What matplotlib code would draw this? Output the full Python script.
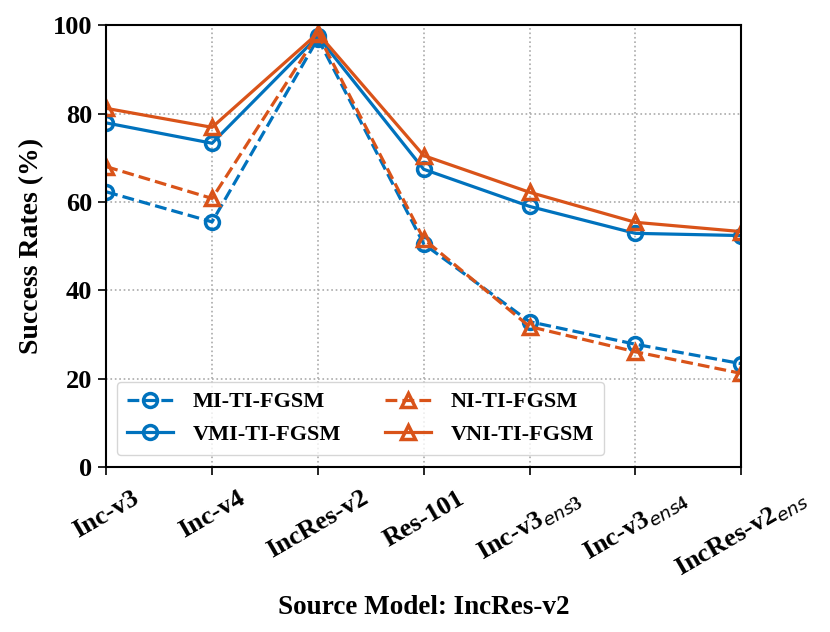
import matplotlib
matplotlib.use("Agg")
import matplotlib.pyplot as plt

models = ["Inc-v3", "Inc-v4", "IncRes-v2", "Res-101",
          r"Inc-v3$_{ens3}$", r"Inc-v3$_{ens4}$", r"IncRes-v2$_{ens}$"]
mi_ti = [62.3, 55.5, 97.0, 50.5, 32.9, 27.8, 23.4]
vmi_ti = [77.9, 73.3, 97.5, 67.4, 59.0, 52.9, 52.4]
ni_ti = [68.0, 60.8, 98.0, 51.6, 31.8, 26.1, 21.2]
vni_ti = [81.2, 76.9, 98.2, 70.5, 62.2, 55.4, 53.3]

plt.rcParams['font.family'] = ['Liberation Serif', 'DejaVu Serif']
plt.rcParams['font.weight'] = 'bold'
plt.rcParams['mathtext.fontset'] = 'custom'
plt.rcParams['mathtext.it'] = 'DejaVu Sans:italic:weight=normal'
plt.rcParams['mathtext.rm'] = 'Liberation Serif:weight=bold'

blue = '#0072BD'
orange = '#D95319'

fig = plt.figure(figsize=(8.3, 6.32), dpi=100)
ax = fig.add_axes([0.128, 0.261, 0.765, 0.699])

x = list(range(len(models)))
kw = dict(linewidth=2.3, markersize=10, markeredgewidth=2.5, markerfacecolor='none')
ax.plot(x, mi_ti, '--', marker='o', color=blue, label='MI-TI-FGSM', **kw)
ax.plot(x, vmi_ti, '-', marker='o', color=blue, label='VMI-TI-FGSM', **kw)
ax.plot(x, ni_ti, '--', marker='^', color=orange, label='NI-TI-FGSM', **kw)
ax.plot(x, vni_ti, '-', marker='^', color=orange, label='VNI-TI-FGSM', **kw)

ax.set_xlim(0, len(models) - 1)
ax.set_ylim(0, 100)
ax.set_yticks([0, 20, 40, 60, 80, 100])
ax.set_xticks(x)
ax.set_xticklabels(models, rotation=30, ha='center',
                   fontsize=19, fontweight='bold')
for lbl in ax.get_yticklabels():
    lbl.set_fontsize(19)
    lbl.set_fontweight('bold')
ax.grid(True, linestyle=':', color='#aaaaaa', linewidth=1.2)
ax.tick_params(direction='out', length=6, width=1.2)
ax.tick_params(axis='x', pad=8)
ax.tick_params(axis='y', pad=4)
for s in ax.spines.values():
    s.set_linewidth(1.5)

ax.set_ylabel('Success Rates (%)', fontsize=20, fontweight='bold', labelpad=6)
ax.set_xlabel('Source Model: IncRes-v2', fontsize=19.5, fontweight='bold', labelpad=9)

handles, labels = ax.get_legend_handles_labels()
leg = ax.legend(handles, labels,
                ncol=2, loc='lower left', bbox_to_anchor=(0.017, 0.027),
                borderaxespad=0,
                prop={'weight': 'bold', 'size': 16}, columnspacing=2.0,
                handlelength=2.05, borderpad=0.45, labelspacing=0.55,
                handletextpad=0.9)

fig.savefig('out.png', dpi=100)
